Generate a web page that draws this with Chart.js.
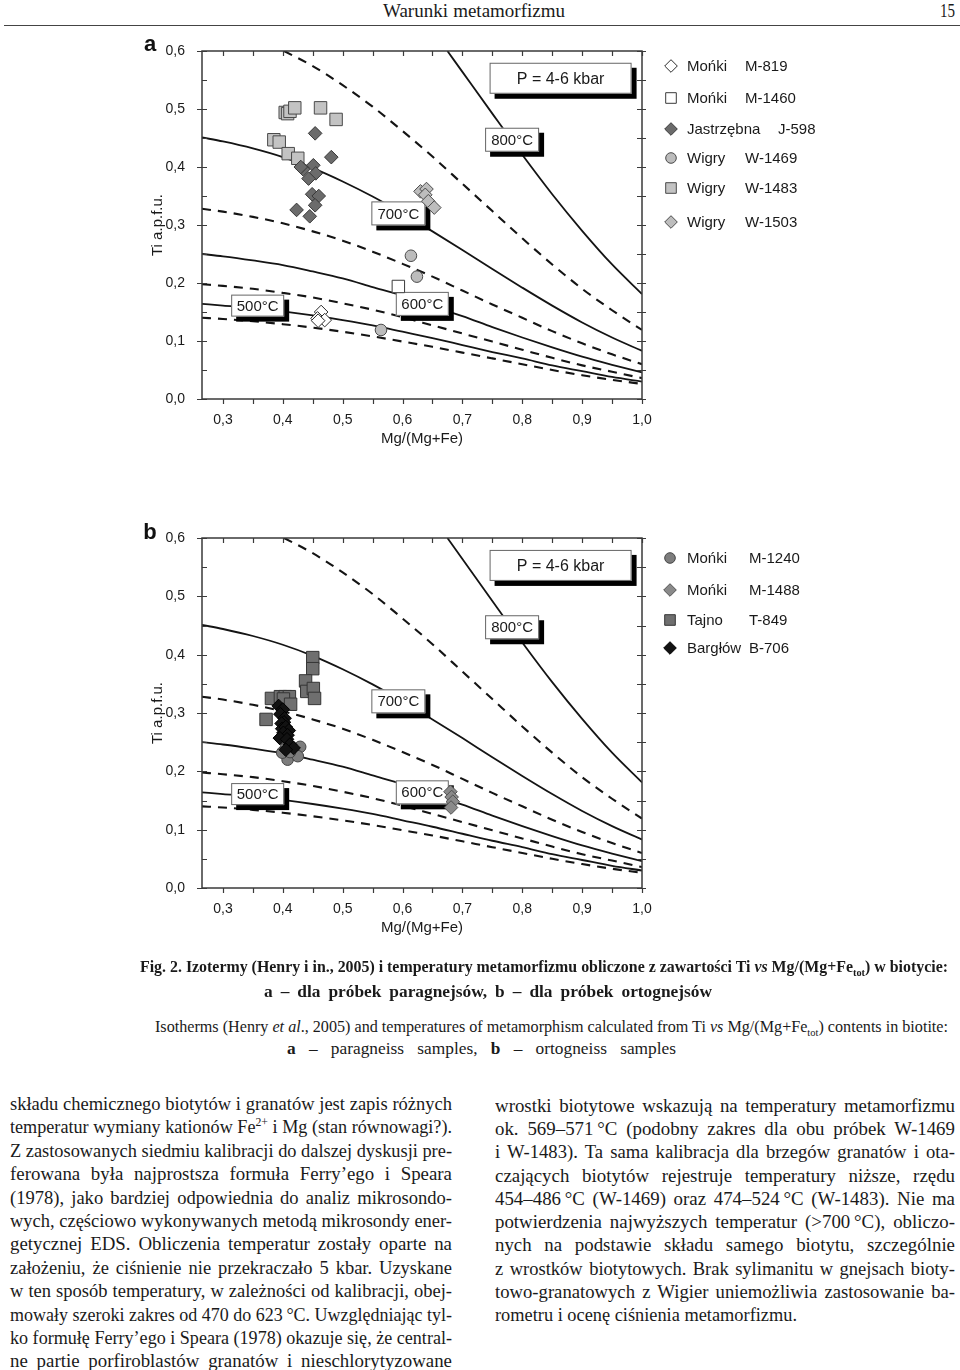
<!DOCTYPE html>
<html>
<head>
<meta charset="utf-8">
<script src="https://cdn.jsdelivr.net/npm/chart.js@4.4.1/dist/chart.umd.min.js"></script>
<style>
  body { margin: 0; background: #fff; }
  #page { position: relative; width: 960px; height: 1370px; overflow: hidden; background: #fff; color: #1a1a1a; font-family: "Liberation Serif", "Times New Roman", serif; }
  canvas { position: absolute; left: 0; }
  .ln { position: absolute; white-space: nowrap; line-height: 1; transform-origin: 0 50%; }
  .body { font-size: 18.5px; }
  .cap { font-size: 17px; }
  .bold { font-weight: bold; }
  sub, sup { font-size: 65%; line-height: 0; }
  #rule { position: absolute; left: 4px; top: 25px; width: 956px; height: 0; border-top: 1.6px solid #444; }
</style>
</head>
<body>
<div id="page">
  <div class="ln" style="left:383px;top:1px;font-size:19px" data-w="182">Warunki metamorfizmu</div>
  <div class="ln" style="left:940px;top:1px;font-size:19px" data-w="15">15</div>
  <div id="rule"></div>

  <canvas id="chartA" width="960" height="440" style="top:30px"></canvas>
  <canvas id="chartB" width="960" height="440" style="top:520px"></canvas>

  <div class="ln cap bold" style="left:140px;top:958px" data-w="808">Fig. 2. Izotermy (Henry i in., 2005) i temperatury metamorfizmu obliczone z zawartości Ti <i>vs</i> Mg/(Mg+Fe<sub>tot</sub>) w biotycie:</div>
  <div class="ln cap bold" style="left:264px;top:983px" data-w="448">a – dla próbek paragnejsów, b – dla próbek ortognejsów</div>
  <div class="ln cap" style="left:155px;top:1018px" data-w="793">Isotherms (Henry <i>et al</i>., 2005) and temperatures of metamorphism calculated from Ti <i>vs</i> Mg/(Mg+Fe<sub>tot</sub>) contents in biotite:</div>
  <div class="ln cap" style="left:287px;top:1040px" data-w="389"><b>a</b> – paragneiss samples, <b>b</b> – ortogneiss samples</div>

  <div class="ln body" style="left:10px;top:1095px" data-w="442">składu chemicznego biotytów i granatów jest zapis różnych</div>
  <div class="ln body" style="left:10px;top:1118px" data-w="442">temperatur wymiany kationów Fe<sup>2+</sup> i Mg (stan równowagi?).</div>
  <div class="ln body" style="left:10px;top:1142px" data-w="442">Z zastosowanych siedmiu kalibracji do dalszej dyskusji pre-</div>
  <div class="ln body" style="left:10px;top:1165px" data-w="442">ferowana była najprostsza formuła Ferry’ego i Speara</div>
  <div class="ln body" style="left:10px;top:1189px" data-w="442">(1978), jako bardziej odpowiednia do analiz mikrosondo-</div>
  <div class="ln body" style="left:10px;top:1212px" data-w="442">wych, częściowo wykonywanych metodą mikrosondy ener-</div>
  <div class="ln body" style="left:10px;top:1235px" data-w="442">getycznej EDS. Obliczenia temperatur zostały oparte na</div>
  <div class="ln body" style="left:10px;top:1259px" data-w="442">założeniu, że ciśnienie nie przekraczało 5 kbar. Uzyskane</div>
  <div class="ln body" style="left:10px;top:1282px" data-w="442">w ten sposób temperatury, w zależności od kalibracji, obej-</div>
  <div class="ln body" style="left:10px;top:1306px" data-w="442">mowały szeroki zakres od 470 do 623&#8201;°C. Uwzględniając tyl-</div>
  <div class="ln body" style="left:10px;top:1329px" data-w="442">ko formułę Ferry’ego i Speara (1978) okazuje się, że central-</div>
  <div class="ln body" style="left:10px;top:1352px" data-w="442">ne partie porfiroblastów granatów i nieschlorytyzowane</div>

  <div class="ln body" style="left:495px;top:1097px" data-w="460">wrostki biotytowe wskazują na temperatury metamorfizmu</div>
  <div class="ln body" style="left:495px;top:1120px" data-w="460">ok. 569–571&#8201;°C (podobny zakres dla obu próbek W-1469</div>
  <div class="ln body" style="left:495px;top:1143px" data-w="460">i W-1483). Ta sama kalibracja dla brzegów granatów i ota-</div>
  <div class="ln body" style="left:495px;top:1167px" data-w="460">czających biotytów rejestruje temperatury niższe, rzędu</div>
  <div class="ln body" style="left:495px;top:1190px" data-w="460">454–486&#8201;°C (W-1469) oraz 474–524&#8201;°C (W-1483). Nie ma</div>
  <div class="ln body" style="left:495px;top:1213px" data-w="460">potwierdzenia najwyższych temperatur (&gt;700&#8201;°C), obliczo-</div>
  <div class="ln body" style="left:495px;top:1236px" data-w="460">nych na podstawie składu samego biotytu, szczególnie</div>
  <div class="ln body" style="left:495px;top:1260px" data-w="460">z wrostków biotytowych. Brak sylimanitu w gnejsach bioty-</div>
  <div class="ln body" style="left:495px;top:1283px" data-w="460">towo-granatowych z Wigier uniemożliwia zastosowanie ba-</div>
  <div class="ln body" style="left:495px;top:1306px" data-w="302">rometru i ocenę ciśnienia metamorfizmu.</div>
</div>

<script>
// ============================== DATA ==============================
const xTicks = [0.3, 0.4, 0.5, 0.6, 0.7, 0.8, 0.9, 1.0];
const yTicks = [0.0, 0.1, 0.2, 0.3, 0.4, 0.5, 0.6];

// isotherms, Mg/(Mg+Fe) -> Ti
const isoX   = [0.265, 0.30, 0.35, 0.40, 0.45, 0.50, 0.55, 0.60, 0.65, 0.70, 0.75, 0.80, 0.85, 0.90, 0.95, 1.00];
const iso450 = [0.140, 0.138, 0.134, 0.129, 0.123, 0.116, 0.108, 0.099, 0.090, 0.080, 0.070, 0.060, 0.050, 0.041, 0.033, 0.026];
const iso500 = [0.164, 0.161, 0.157, 0.151, 0.144, 0.136, 0.127, 0.116, 0.105, 0.093, 0.081, 0.070, 0.058, 0.048, 0.038, 0.030];
const iso550 = [0.198, 0.195, 0.190, 0.183, 0.175, 0.165, 0.154, 0.141, 0.127, 0.113, 0.099, 0.085, 0.071, 0.058, 0.047, 0.036];
const iso600 = [0.250, 0.246, 0.239, 0.231, 0.220, 0.208, 0.193, 0.178, 0.160, 0.143, 0.124, 0.106, 0.089, 0.073, 0.059, 0.046];
const iso650 = [0.328, 0.323, 0.314, 0.303, 0.289, 0.273, 0.254, 0.233, 0.211, 0.187, 0.163, 0.140, 0.117, 0.096, 0.077, 0.060];
const iso700 = [0.451, 0.444, 0.432, 0.417, 0.398, 0.375, 0.349, 0.320, 0.289, 0.257, 0.224, 0.192, 0.161, 0.132, 0.106, 0.083];
const iso750X = [0.402, 0.45, 0.50, 0.55, 0.60, 0.65, 0.70, 0.75, 0.80, 0.85, 0.90, 0.95, 1.00];
const iso750  = [0.600, 0.574, 0.541, 0.504, 0.462, 0.418, 0.371, 0.324, 0.277, 0.232, 0.190, 0.153, 0.119];
const iso800X = [0.675, 0.70, 0.75, 0.80, 0.85, 0.90, 0.95, 1.00];
const iso800  = [0.600, 0.564, 0.492, 0.421, 0.353, 0.290, 0.232, 0.181];

const isoLabels = ["500°C", "600°C", "700°C", "800°C"];
const pressureLabel = "P = 4-6 kbar";

// a - paragneiss samples [Mg/(Mg+Fe), Ti]
const m819  = [[0.464, 0.150], [0.458, 0.139], [0.470, 0.136], [0.459, 0.135]];
const m1460 = [[0.593, 0.194]];
const j598  = [[0.454, 0.458], [0.481, 0.417], [0.451, 0.403], [0.434, 0.396], [0.430, 0.400], [0.455, 0.389],
               [0.443, 0.380], [0.449, 0.353], [0.460, 0.350], [0.454, 0.334], [0.423, 0.326], [0.445, 0.315]];
const w1469 = [[0.614, 0.247], [0.624, 0.211], [0.564, 0.119]];
const w1483 = [[0.404, 0.494], [0.408, 0.492], [0.412, 0.496], [0.420, 0.502], [0.463, 0.502], [0.489, 0.482],
               [0.385, 0.447], [0.394, 0.443], [0.409, 0.423], [0.425, 0.415]];
const w1503 = [[0.630, 0.358], [0.640, 0.362], [0.638, 0.352], [0.643, 0.341], [0.653, 0.330]];

// b - ortogneiss samples
const t849  = [[0.450, 0.395], [0.450, 0.376], [0.438, 0.355], [0.440, 0.337], [0.451, 0.342], [0.453, 0.325],
               [0.381, 0.325], [0.396, 0.328], [0.404, 0.328], [0.411, 0.328], [0.401, 0.324], [0.413, 0.315], [0.372, 0.289]];
const m1240 = [[0.405, 0.240], [0.429, 0.242], [0.419, 0.229], [0.408, 0.220], [0.399, 0.232], [0.425, 0.226], [0.412, 0.233]];
const m1488 = [[0.680, 0.165], [0.682, 0.156], [0.684, 0.148], [0.681, 0.138]];
const b706  = [[0.393, 0.312], [0.400, 0.306], [0.396, 0.298], [0.403, 0.291], [0.402, 0.284], [0.398, 0.282],
               [0.399, 0.273], [0.405, 0.276], [0.410, 0.270], [0.401, 0.266], [0.408, 0.262], [0.395, 0.257],
               [0.407, 0.255], [0.412, 0.246], [0.418, 0.240], [0.405, 0.237]];

const legendA = [["Mońki", "M-819"], ["Mońki", "M-1460"], ["Jastrzębna", "J-598"], ["Wigry", "W-1469"], ["Wigry", "W-1483"], ["Wigry", "W-1503"]];
const legendB = [["Mońki", "M-1240"], ["Mońki", "M-1488"], ["Tajno", "T-849"], ["Bargłów", "B-706"]];

// ============================== HELPERS ==============================
const FONT = "'Liberation Sans', Arial, sans-serif";

function curve(xs, ys, dashed) {
    return {
        data: xs.map((x, i) => ({ x: x, y: ys[i] })),
        showLine: true, pointRadius: 0, borderColor: "#141414",
        borderWidth: dashed ? 2.1 : 1.8, borderDash: dashed ? [9, 7] : [],
        cubicInterpolationMode: "monotone", order: 50
    };
}

function sample(pts, shape, fill, stroke, order) {
    const r = shape === "rect" ? 8.8 : shape === "rectRot" ? 6.8 : 5.8;
    return {
        data: pts.map(p => ({ x: p[0], y: p[1] })),
        showLine: false, pointStyle: shape, pointRadius: r,
        backgroundColor: fill, borderColor: stroke, borderWidth: 1,
        isSample: true, order: order
    };
}

function marker(ctx, shape, x, y, s, fill, stroke) {
    ctx.beginPath();
    if (shape === "circle") ctx.arc(x, y, s, 0, Math.PI * 2);
    else if (shape === "rect") ctx.rect(x - s, y - s, 2 * s, 2 * s);
    else { ctx.moveTo(x, y - s); ctx.lineTo(x + s, y); ctx.lineTo(x, y + s); ctx.lineTo(x - s, y); ctx.closePath(); }
    ctx.fillStyle = fill; ctx.fill();
    ctx.lineWidth = 1; ctx.strokeStyle = stroke; ctx.stroke();
}

function isoCurves() {
    return [
        curve(isoX, iso450, true), curve(isoX, iso500, false), curve(isoX, iso550, true), curve(isoX, iso600, false),
        curve(isoX, iso650, true), curve(isoX, iso700, false), curve(iso750X, iso750, true), curve(iso800X, iso800, false)
    ];
}

function drawBoxes(chart) {
    const { ctx, scales: { x, y } } = chart;
    const boxes = [
        { t: pressureLabel, x: 0.864, y: 0.553, w: 142, h: 31, f: 16 },
        { t: isoLabels[3], x: 0.783, y: 0.447, w: 54, h: 24, f: 15 },
        { t: isoLabels[2], x: 0.593, y: 0.320, w: 54, h: 24, f: 15 },
        { t: isoLabels[0], x: 0.358, y: 0.161, w: 53, h: 22, f: 15 },
        { t: isoLabels[1], x: 0.633, y: 0.164, w: 53, h: 24, f: 15 }
    ];
    ctx.save();
    boxes.forEach(b => {
        const cx = x.getPixelForValue(b.x), cy = y.getPixelForValue(b.y);
        const l = cx - b.w / 2, t = cy - b.h / 2;
        ctx.fillStyle = "#000";
        ctx.fillRect(l + 5, t + 5, b.w, b.h);
        ctx.fillStyle = "#fff";
        ctx.fillRect(l, t, b.w, b.h);
        ctx.lineWidth = 1; ctx.strokeStyle = "#666";
        ctx.strokeRect(l + 0.5, t + 0.5, b.w - 1, b.h - 1);
        ctx.fillStyle = "#1a1a1a";
        ctx.font = b.f + "px " + FONT;
        ctx.textAlign = "center"; ctx.textBaseline = "middle";
        ctx.fillText(b.t, cx, cy + 1);
    });
    ctx.restore();
}

function drawFrame(chart) {
    const { ctx, chartArea: a, scales: { x, y } } = chart;
    ctx.save();
    ctx.strokeStyle = "#3a3a3a"; ctx.lineWidth = 1.5;
    ctx.strokeRect(a.left, a.top, a.right - a.left, a.bottom - a.top);
    ctx.lineWidth = 1.2;
    ctx.beginPath();
    for (let k = 0; k <= 12; k++) {
        const py = Math.round(y.getPixelForValue(k * 0.05)) + 0.5;
        ctx.moveTo(a.left, py); ctx.lineTo(a.left + 5, py);
        if (k % 2 === 0) { ctx.moveTo(a.left, py); ctx.lineTo(a.left - 5, py); }
        ctx.moveTo(a.right - 5, py); ctx.lineTo(a.right + 4, py);
    }
    for (let k = 6; k <= 20; k++) {
        const px = Math.round(x.getPixelForValue(k * 0.05)) + 0.5;
        ctx.moveTo(px, a.bottom); ctx.lineTo(px, a.bottom + 5);
        ctx.moveTo(px, a.top); ctx.lineTo(px, a.top + 5);
    }
    ctx.stroke();
    ctx.restore();
}

const panelDecor = {
    id: "panelDecor",
    beforeDatasetsDraw(chart) { chart.$boxesDone = false; },
    beforeDatasetDraw(chart, args) {
        if (!chart.$boxesDone && chart.data.datasets[args.index].isSample) {
            drawBoxes(chart);
            chart.$boxesDone = true;
        }
    },
    afterDatasetsDraw(chart) {
        if (!chart.$boxesDone) drawBoxes(chart);
        drawFrame(chart);
    },
    afterDraw(chart, args, opts) {
        const ctx = chart.ctx;
        ctx.save();
        ctx.fillStyle = "#111";
        ctx.font = "bold 22px " + FONT;
        ctx.textAlign = "center"; ctx.textBaseline = "middle";
        ctx.fillText(opts.letter, 150, opts.letterY);
        ctx.font = "15px " + FONT;
        ctx.textAlign = "left";
        opts.items.forEach(it => {
            const ds = chart.data.datasets[it.ds];
            const s = ds.pointStyle === "circle" ? 5.3 : ds.pointStyle === "rect" ? 5.3 : 6.3;
            marker(ctx, ds.pointStyle, it.mx, it.y, s, ds.backgroundColor, ds.borderColor);
            ctx.fillStyle = "#1a1a1a";
            ctx.fillText(it.text[0], it.tx, it.y + 1);
            ctx.fillText(it.text[1], it.sx, it.y + 1);
        });
        ctx.restore();
    }
};

function makePanel(id, areaTop, xHeight, datasets, decor) {
    return new Chart(document.getElementById(id), {
        type: "scatter",
        data: { datasets: datasets },
        options: {
            responsive: false,
            animation: false,
            devicePixelRatio: 1,
            layout: { padding: { left: 0, right: 318, top: areaTop, bottom: 0 } },
            plugins: { legend: { display: false }, tooltip: { enabled: false }, panelDecor: decor },
            scales: {
                x: {
                    type: "linear", min: 0.265, max: 1.0,
                    afterBuildTicks: s => { s.ticks = xTicks.map(v => ({ value: v })); },
                    afterFit: s => { s.height = xHeight; },
                    grid: { display: false }, border: { display: false },
                    ticks: { color: "#1a1a1a", font: { family: FONT, size: 14 }, padding: 5, maxRotation: 0, autoSkip: false,
                             callback: v => v.toFixed(1).replace(".", ",") },
                    title: { display: true, text: "Mg/(Mg+Fe)", color: "#1a1a1a", font: { family: FONT, size: 15 }, padding: { top: 4, bottom: xHeight - 49 } }
                },
                y: {
                    type: "linear", min: 0, max: 0.6,
                    afterBuildTicks: s => { s.ticks = yTicks.map(v => ({ value: v })); },
                    afterFit: s => { s.width = 202; },
                    grid: { display: false }, border: { display: false },
                    ticks: { color: "#1a1a1a", font: { family: FONT, size: 14 }, padding: 9, autoSkip: false,
                             callback: v => v.toFixed(1).replace(".", ",") },
                    title: { display: true, text: "Ti a.p.f.u.", color: "#1a1a1a", font: { family: FONT, size: 15 }, padding: { top: 149, bottom: 0 } }
                }
            }
        },
        plugins: [panelDecor]
    });
}

// ============================== BUILD ==============================
window.addEventListener("DOMContentLoaded", () => {
    const dsA = [
        sample(w1483, "rect", "#c3c3c3", "#4a4a4a", 6),
        sample(j598, "rectRot", "#6b6b6b", "#383838", 5),
        sample(w1469, "circle", "#bcbcbc", "#4a4a4a", 4),
        sample(w1503, "rectRot", "#bdbdbd", "#4a4a4a", 3),
        sample(m1460, "rect", "#ffffff", "#3a3a3a", 2),
        sample(m819, "rectRot", "#ffffff", "#2a2a2a", 1)
    ].concat(isoCurves());

    const dsB = [
        sample(t849, "rect", "#6f6f6f", "#353535", 4),
        sample(m1240, "circle", "#7d7d7d", "#444", 3),
        sample(m1488, "rectRot", "#8a8a8a", "#505050", 2),
        sample(b706, "rectRot", "#121212", "#000", 1)
    ].concat(isoCurves());

    const yA = [36, 68, 99, 128, 158, 192];
    const itemsA = legendA.map((t, i) => ({
        text: t, y: yA[i], mx: 671, tx: 687,
        sx: i === 2 ? 778 : 745,
        ds: [5, 4, 1, 2, 0, 3][i]
    }));
    const yB = [38, 70, 100, 128];
    const itemsB = legendB.map((t, i) => ({
        text: t, y: yB[i], mx: 670, tx: 687, sx: 749,
        ds: [1, 2, 0, 3][i]
    }));

    makePanel("chartA", 21, 71, dsA, { letter: "a", letterY: 15, items: itemsA });
    makePanel("chartB", 18, 72, dsB, { letter: "b", letterY: 13, items: itemsB });

    // justify text lines like the printed page: some extra word space, the rest by width scaling
    document.querySelectorAll(".ln").forEach(el => {
        const target = parseFloat(el.dataset.w);
        const w = el.getBoundingClientRect().width;
        const gaps = (el.textContent.match(/ /g) || []).length;
        let ws = 0;
        if (gaps > 0 && target > w) {
            ws = Math.min((target - w) / gaps, 2.5);
            if (w + ws * gaps < target / 1.02) ws = (target / 1.02 - w) / gaps;
        }
        el.style.wordSpacing = ws + "px";
        const w2 = el.getBoundingClientRect().width;
        el.style.transform = "scaleX(" + (target / w2) + ")";
    });
});
</script>
</body>
</html>
